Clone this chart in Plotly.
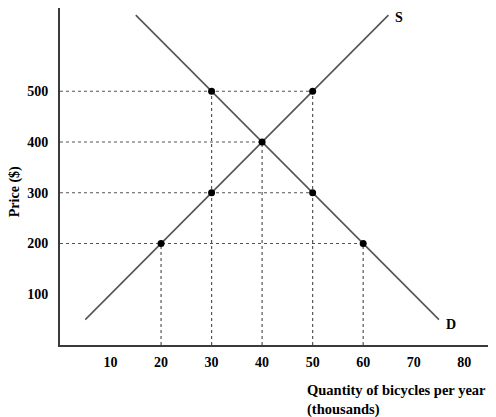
import plotly.graph_objects as go

# supply and demand curve end points
supply_q = [5, 65]
supply_p = [50, 650]
demand_q = [15, 75]
demand_p = [650, 50]

# marked points on the curves
point_q = [20, 30, 30, 40, 50, 50, 60]
point_p = [200, 300, 500, 400, 500, 300, 200]

x_ticks = [10, 20, 30, 40, 50, 60, 70, 80]
y_ticks = [100, 200, 300, 400, 500]

font = "Liberation Serif"
curve_col = "#555555"
guide_col = "#555555"

fig = go.Figure()

# dotted guides: horizontal from the price axis, vertical from the quantity axis
for p in sorted(set(point_p)):
    qmax = max(q for q, pp in zip(point_q, point_p) if pp == p)
    fig.add_trace(go.Scatter(x=[0, qmax], y=[p, p], mode="lines",
                             line=dict(color=guide_col, width=1.2, dash="dot"),
                             hoverinfo="skip"))
for q in sorted(set(point_q)):
    pmax = max(pp for qq, pp in zip(point_q, point_p) if qq == q)
    fig.add_trace(go.Scatter(x=[q, q], y=[0, pmax], mode="lines",
                             line=dict(color=guide_col, width=1.2, dash="dot"),
                             hoverinfo="skip"))

fig.add_trace(go.Scatter(x=supply_q, y=supply_p, mode="lines",
                         line=dict(color=curve_col, width=1.6)))
fig.add_trace(go.Scatter(x=demand_q, y=demand_p, mode="lines",
                         line=dict(color=curve_col, width=1.6)))
fig.add_trace(go.Scatter(x=point_q, y=point_p, mode="markers",
                         marker=dict(color="black", size=7)))

fig.add_annotation(x=supply_q[1] + 1, yref="paper", y=1.0, text="<b>S</b>",
                   showarrow=False, xanchor="left", yanchor="top",
                   font=dict(family=font, size=14, color="black"))
fig.add_annotation(x=demand_q[1] + 1, y=demand_p[1] - 10, text="<b>D</b>",
                   showarrow=False, xanchor="left", yanchor="middle",
                   font=dict(family=font, size=14, color="black"))

fig.add_annotation(xref="paper", yref="paper", x=-0.104, y=0.454,
                   text="<b>Price ($)</b>", textangle=-90, showarrow=False,
                   xanchor="center", yanchor="middle",
                   font=dict(family=font, size=14, color="black"))
fig.add_annotation(xref="paper", yref="paper", x=0.568, y=-0.105,
                   text="<b>Quantity of bicycles per year<br>(thousands)</b>",
                   showarrow=False, xanchor="left", yanchor="top", align="left",
                   font=dict(family=font, size=14.5, color="black"))

# page body has an 8px margin, so the figure is a bit smaller than the window
fig.update_layout(
    width=488, height=409,
    margin=dict(l=52, r=5, t=0, b=72),
    paper_bgcolor="white", plot_bgcolor="white",
    showlegend=False,
    font=dict(family=font, size=14, color="black"),
    xaxis=dict(range=[0, 85.3], tickvals=x_ticks,
               ticktext=[f"<b>{v}</b>" for v in x_ticks],
               showgrid=False, zeroline=False, showline=True,
               linecolor="#3a3a3a", linewidth=2, ticks="",
               ticklabelstandoff=3),
    yaxis=dict(range=[0, 664], tickvals=y_ticks,
               ticktext=[f"<b>{v}</b>" for v in y_ticks],
               showgrid=False, zeroline=False, showline=True,
               linecolor="#3a3a3a", linewidth=2, ticks="",
               ticklabelstandoff=7),
)

fig.write_html("out.html")
